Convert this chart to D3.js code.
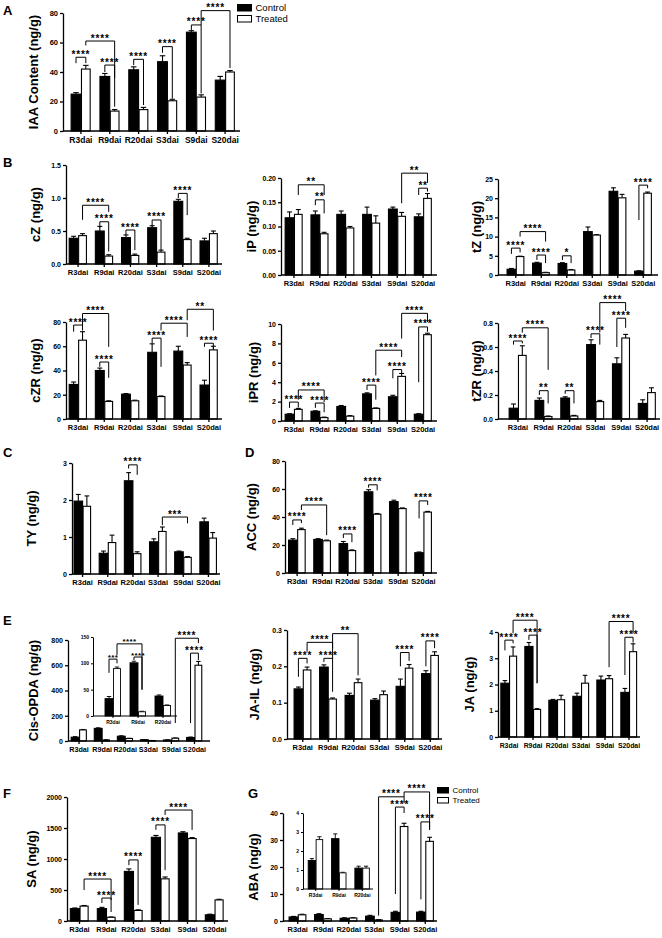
<!DOCTYPE html>
<html><head><meta charset="utf-8">
<script src="https://cdn.jsdelivr.net/npm/d3@7"></script>
<style>
body{margin:0;background:#fff}
text{font-family:"Liberation Sans",Arial,sans-serif}
</style>
</head><body>
<svg id="chart" width="662" height="938"></svg>
<script>
// ---------- DATA ----------
const categories = ["R3dai","R9dai","R20dai","S3dai","S9dai","S20dai"];
const insetCategories = ["R3dai","R9dai","R20dai"];
const seriesNames = ["Control","Treated"];

// A: IAA
const iaaControl = [25, 37, 41.5, 47, 67, 34.5];
const iaaTreated = [42, 13.5, 14.5, 20.5, 23, 40];
const iaaControlErr = [1, 2, 2, 4, 1, 2.5];
const iaaTreatedErr = [2.5, 1, 1.5, 1, 1.5, 1];
const iaaTicks = [0, 20, 40, 60, 80];
const iaaSig = [["****",0,0,0,1,50,46,46],["****",0,1,1,1,61,58,36],["****",1,0,1,1,44.7,40,16.5],["****",2,0,2,1,48.6,44.7,17.6],["****",3,0,3,1,57.2,53,22],["****",4,0,4,1,71.9,68.5,25.5],["****",4,1,5,1,81.6,71.9,42.7]];

// B: cZ
const czControl = [0.39, 0.50, 0.40, 0.55, 0.95, 0.35];
const czTreated = [0.43, 0.12, 0.13, 0.18, 0.37, 0.46];
const czControlErr = [0.03, 0.07, 0.04, 0.03, 0.03, 0.04];
const czTreatedErr = [0.03, 0.02, 0.02, 0.03, 0.02, 0.04];
const czTicks = [0, 0.5, 1.0, 1.5];
const czSig = [["****",0,1,1,1,0.89,0.67,0.79],["****",1,0,1,1,0.64,0.55,0.19],["****",2,0,2,1,0.515,0.44,0.21],["****",3,0,3,1,0.667,0.57,0.21],["****",4,0,4,1,1.07,1.0,0.74]];

// B: iP
const ipControl = [0.118, 0.124, 0.125, 0.125, 0.136, 0.120];
const ipTreated = [0.125, 0.085, 0.097, 0.107, 0.121, 0.158];
const ipControlErr = [0.012, 0.008, 0.007, 0.015, 0.004, 0.006];
const ipTreatedErr = [0.010, 0.003, 0.003, 0.015, 0.008, 0.010];
const ipTicks = [0, 0.05, 0.10, 0.15, 0.20];
const ipSig = [["**",0,1,1,1,0.186,0.165,0.165],["**",1,0,1,1,0.155,0.144,0.127],["**",4,1,5,1,0.21,0.148,0.19],["**",5,0,5,1,0.179,0.165,0.172]];

// B: tZ
const tzControl = [1.5, 3.1, 3.0, 11.3, 21.8, 1.0];
const tzTreated = [4.8, 0.6, 1.3, 10.4, 20.1, 21.3];
const tzControlErr = [0.2, 0.2, 0.2, 1.2, 0.9, 0.1];
const tzTreatedErr = [0.1, 0.1, 0.1, 0.1, 0.9, 0.3];
const tzTicks = [0, 5, 10, 15, 20, 25];
const tzSig = [["****",0,0,0,1,7.0,5.5,5.9],["****",0,1,1,1,11.3,10,8.7],["****",1,0,1,1,5.2,3.9,3.1],["*",2,0,2,1,5.0,3.9,3.1],["****",5,0,5,1,23.4,14.3,22.6]];

// B: cZR
const czrControl = [28.5, 40, 20.5, 55, 56, 28];
const czrTreated = [65, 14.5, 15, 18.5, 44.5, 57];
const czrControlErr = [2, 2, 0.5, 7, 4, 4];
const czrTreatedErr = [7, 0.5, 0.5, 0.5, 2, 3];
const czrTicks = [0, 20, 40, 60, 80];
const czrSig = [["****",0,0,0,1,77.5,72,73],["****",0,1,1,1,87,77.5,59.5],["****",1,0,1,1,47,43,34],["****",3,0,3,1,66.7,62.5,43],["****",3,1,4,1,79,73,67.7],["**",4,1,5,1,90.5,81.5,73],["****",5,0,5,1,62.5,59.5,58.5]];

// B: iPR
const iprControl = [0.7, 1.0, 1.5, 2.8, 2.5, 0.7];
const iprTreated = [1.2, 0.35, 0.5, 1.3, 4.6, 8.9];
const iprControlErr = [0.05, 0.05, 0.1, 0.1, 0.15, 0.05];
const iprTreatedErr = [0.1, 0.05, 0.05, 0.05, 0.3, 0.15];
const iprTicks = [0, 2, 4, 6, 8, 10];
const iprSig = [["****",0,0,0,1,1.95,1.35,1.4],["****",0,1,1,1,3.2,2.2,1.95],["****",1,0,1,1,1.85,1.35,0.9],["****",3,0,3,1,3.7,3.2,2.2],["****",3,1,4,1,7.3,4.7,6.6],["****",4,0,4,1,5.3,4.4,4.9],["****",4,1,5,1,11.1,8.5,10.2],["****",5,0,5,1,9.7,4.0,9.2]];

// B: tZR
const tzrControl = [0.09, 0.155, 0.175, 0.62, 0.46, 0.13];
const tzrTreated = [0.53, 0.02, 0.025, 0.145, 0.675, 0.22];
const tzrControlErr = [0.035, 0.02, 0.01, 0.04, 0.05, 0.03];
const tzrTreatedErr = [0.08, 0.005, 0.005, 0.01, 0.03, 0.04];
const tzrTicks = [0, 0.2, 0.4, 0.6, 0.8];
const tzrSig = [["****",0,0,0,1,0.65,0.62,0.63],["****",0,1,1,1,0.76,0.72,0.41],["**",1,0,1,1,0.236,0.2,0.13],["**",2,0,2,1,0.236,0.21,0.13],["****",3,0,3,1,0.71,0.675,0.62],["****",3,1,4,1,0.97,0.72,0.9],["****",4,0,4,1,0.84,0.6,0.76]];

// C: TY
const tyControl = [1.97, 0.56, 2.52, 0.87, 0.60, 1.41];
const tyTreated = [1.83, 0.85, 0.55, 1.15, 0.45, 0.97];
const tyControlErr = [0.18, 0.06, 0.22, 0.08, 0.02, 0.1];
const tyTreatedErr = [0.28, 0.2, 0.05, 0.12, 0.02, 0.15];
const tyTicks = [0, 1, 2, 3];
const tySig = [["****",2,0,2,1,2.95,2.85,2.68],["***",3,1,4,1,1.54,1.32,1.37]];

// D: ACC
const accControl = [23.5, 24, 21, 58, 51, 14.5];
const accTreated = [31, 23, 16, 42, 46, 43.5];
const accControlErr = [1, 0.5, 1.5, 1.5, 1, 0.5];
const accTreatedErr = [1, 0.5, 0.5, 0.5, 0.5, 0.5];
const accTicks = [0, 20, 40, 60, 80];
const accSig = [["****",0,0,0,1,37.9,34.3,35.7],["****",0,1,1,1,48.6,45,27],["****",2,0,2,1,27.9,25,22],["****",3,0,3,1,63,61,59],["****",5,0,5,1,51.5,39,48.6]];

// E: Cis-OPDA (main + inset)
const opdaControl = [30, 100, 38, 10, 8, 28];
const opdaTreated = [88, 8, 20, 3, 22, 600];
const opdaControlErr = [4, 4, 3, 1, 1, 3];
const opdaTreatedErr = [3, 1, 1, 1, 2, 30];
const opdaTicks = [0, 200, 400, 600, 800];
const opdaSig = [["****",4,1,5,1,814,142,775],["****",5,0,5,1,696,142,640]];
const opdaInsetControl = [33, 101, 38];
const opdaInsetTreated = [90, 8, 20];
const opdaInsetControlErr = [4, 3, 2];
const opdaInsetTreatedErr = [3, 1, 1];
const opdaInsetTicks = [0, 50, 100, 150];
const opdaInsetSig = [["***",0,0,0,1,108,82,100],["****",0,1,1,1,137,116,50],["****",1,0,1,1,112,106,50]];

// E: JA-IL
const jailControl = [0.138, 0.198, 0.120, 0.107, 0.145, 0.180];
const jailTreated = [0.190, 0.110, 0.155, 0.122, 0.195, 0.230];
const jailControlErr = [0.005, 0.006, 0.006, 0.004, 0.02, 0.008];
const jailTreatedErr = [0.008, 0.003, 0.01, 0.01, 0.01, 0.01];
const jailTicks = [0, 0.1, 0.2, 0.3];
const jailSig = [["****",0,0,0,1,0.222,0.171,0.208],["****",0,1,1,1,0.266,0.24,0.22],["****",1,0,1,1,0.222,0.212,0.13],["**",1,1,2,1,0.29,0.25,0.175],["****",4,0,4,1,0.238,0.2,0.215],["****",5,0,5,1,0.27,0.2,0.25]];

// E: JA
const jaControl = [2.05, 3.45, 1.40, 1.55, 2.17, 1.70];
const jaTreated = [3.08, 1.05, 1.42, 2.05, 2.22, 3.25];
const jaControlErr = [0.1, 0.15, 0.03, 0.12, 0.15, 0.15];
const jaTreatedErr = [0.35, 0.03, 0.17, 0.3, 0.12, 0.3];
const jaTicks = [0, 1, 2, 3, 4];
const jaSig = [["****",0,0,0,1,3.69,3.3,3.57],["****",0,1,1,1,4.45,3.95,2.05],["****",1,0,1,1,3.88,3.7,2.05],["****",4,1,5,1,4.4,2.66,3.95],["****",5,0,5,1,3.8,2.36,3.6]];

// F: SA
const saControl = [200, 200, 800, 1350, 1420, 100];
const saTreated = [240, 60, 170, 680, 1330, 340];
const saControlErr = [10, 20, 40, 30, 20, 10];
const saTreatedErr = [10, 5, 10, 30, 15, 10];
const saTicks = [0, 500, 1000, 1500, 2000];
const saSig = [["****",0,1,1,1,677,500,340],["****",1,0,1,1,370,290,145],["****",2,0,2,1,985,900,260],["****",3,0,3,1,1550,1470,820],["****",3,1,4,1,1790,1710,1470]];

// G: ABA (main + inset)
const abaControl = [1.5, 2.4, 1.0, 1.8, 3.2, 3.3];
const abaTreated = [2.3, 0.8, 1.1, 0.4, 35, 29.5];
const abaControlErr = [0.2, 0.3, 0.2, 0.3, 0.4, 0.3];
const abaTreatedErr = [0.2, 0.1, 0.1, 0.1, 1.2, 1.5];
const abaTicks = [0, 10, 20, 30, 40];
const abaSig = [["****",3,1,4,1,46,2,43.7],["****",4,1,5,1,47.8,46,33.7],["****",4,0,4,1,42.2,10,40],["****",5,0,5,1,36.7,8,34]];
const abaInsetControl = [1.5, 2.65, 1.1];
const abaInsetTreated = [2.6, 0.85, 1.1];
const abaInsetControlErr = [0.1, 0.25, 0.1];
const abaInsetTreatedErr = [0.15, 0.03, 0.1];
const abaInsetTicks = [0, 1, 2, 3, 4];

// ---------- DRAWING ----------
const svg = d3.select("#chart");
svg.append("rect").attr("width",662).attr("height",938).attr("fill","#fff");

function drawPanel(o) {
  const g = svg.append("g");
  const fs = o.fs || 7.5;
  const y = d3.scaleLinear().domain([0, o.max]).range([o.y0, o.yTop]);
  const x = d3.scaleBand().domain(o.cats).range(o.band).paddingInner(0).paddingOuter(0);
  const bw = x.bandwidth() * (o.bwFrac || 0.34);
  const cx = (i, s) => x(o.cats[i]) + x.bandwidth()/2 + (s === 0 ? -bw/2 : bw/2);
  const series = [o.ctrl, o.trt];
  const errs = [o.ctrlErr, o.trtErr];
  const sw = o.sw || 1.1;
  series.forEach((vals, s) => {
    const rows = vals.map((v, i) => ({v, i, e: errs[s][i]}));
    g.selectAll(null).data(rows).enter().append("line")
      .attr("x1", d => cx(d.i, s)).attr("x2", d => cx(d.i, s))
      .attr("y1", d => y(d.v)).attr("y2", d => y(d.v + d.e))
      .attr("stroke", "#000").attr("stroke-width", sw);
    g.selectAll(null).data(rows).enter().append("line")
      .attr("x1", d => cx(d.i, s) - bw*0.28).attr("x2", d => cx(d.i, s) + bw*0.28)
      .attr("y1", d => y(d.v + d.e)).attr("y2", d => y(d.v + d.e))
      .attr("stroke", "#000").attr("stroke-width", sw);
    g.selectAll(null).data(rows).enter().append("rect")
      .attr("x", d => cx(d.i, s) - bw/2 + (s ? sw/2 : 0))
      .attr("width", bw - (s ? sw : 0))
      .attr("y", d => y(d.v))
      .attr("height", d => Math.max(0, y(0) - y(d.v)))
      .attr("fill", s === 0 ? "#000" : "#fff")
      .attr("stroke", "#000").attr("stroke-width", sw);
  });
  const ya = d3.axisLeft(y).tickValues(o.ticks).tickFormat(d3.format(o.fmt || "d"))
    .tickSize(o.tick || 3).tickSizeOuter(0).tickPadding(2);
  const yg = g.append("g").attr("transform", `translate(${o.axis[0]},0)`).call(ya);
  const xa = d3.axisBottom(x).tickSize(o.tick || 3).tickSizeOuter(0).tickPadding(o.xpad || 3);
  const xg = g.append("g").attr("transform", `translate(0,${o.y0})`).call(xa);
  xg.select(".domain").attr("d", `M${o.axis[0]},0H${o.axis[1]}`);
  [yg, xg].forEach(a => {
    a.selectAll("path,line").attr("stroke", "#000").attr("stroke-width", o.aw || 1.3);
    a.selectAll("text").attr("font-weight", "bold").attr("fill", "#000")
      .attr("font-family", '"Liberation Sans", Arial, sans-serif');
  });
  yg.selectAll("text").attr("font-size", o.yfs || Math.min(fs, 7));
  xg.selectAll("text").attr("font-size", fs);
  if (o.title) {
    g.append("text").attr("transform", `translate(${o.titleX},${(o.y0 + o.yTop)/2}) rotate(-90)`)
      .attr("text-anchor", "middle").attr("font-size", o.titleFs || 13).attr("font-weight", "bold")
      .text(o.title);
  }
  (o.sig || []).forEach(b => {
    const [lab, i1, s1, i2, s2, top, l1, l2] = b;
    const xa1 = cx(i1, s1), xa2 = cx(i2, s2), yt = y(top);
    g.append("path").attr("d", `M${xa1},${y(l1)}V${yt}H${xa2}V${y(l2)}`)
      .attr("fill", "none").attr("stroke", "#000").attr("stroke-width", o.bsw || 1);
    g.append("text").attr("x", (xa1 + xa2)/2).attr("y", yt + (o.starDy || 0.5))
      .attr("text-anchor", "middle").attr("font-size", o.starFs || 10).attr("font-weight", "bold")
      .attr("letter-spacing", o.starLs == null ? 0.8 : o.starLs).text(lab);
  });
}

drawPanel({cats: categories, ctrl: iaaControl, trt: iaaTreated, ctrlErr: iaaControlErr, trtErr: iaaTreatedErr,
  ticks: iaaTicks, max: 80, y0: 131, yTop: 13, axis: [63, 240], band: [66.5, 239.5], fs: 8.5, yfs: 7.5, title: "IAA Content (ng/g)", titleX: 38, sig: iaaSig});
drawPanel({cats: categories, ctrl: czControl, trt: czTreated, ctrlErr: czControlErr, trtErr: czTreatedErr,
  ticks: czTicks, fmt: ".1f", max: 1.5, y0: 264, yTop: 165, axis: [66, 222], band: [65, 222], title: "cZ (ng/g)", titleX: 40, sig: czSig});
drawPanel({cats: categories, ctrl: ipControl, trt: ipTreated, ctrlErr: ipControlErr, trtErr: ipTreatedErr,
  ticks: ipTicks, fmt: ".2f", max: 0.2, y0: 275, yTop: 178, axis: [281, 437], band: [281, 436], title: "iP (ng/g)", titleX: 256, sig: ipSig});
drawPanel({cats: categories, ctrl: tzControl, trt: tzTreated, ctrlErr: tzControlErr, trtErr: tzTreatedErr,
  ticks: tzTicks, max: 25, y0: 275, yTop: 179, axis: [498, 658], band: [503, 656], title: "tZ (ng/g)", titleX: 481, sig: tzSig});
drawPanel({cats: categories, ctrl: czrControl, trt: czrTreated, ctrlErr: czrControlErr, trtErr: czrTreatedErr,
  ticks: czrTicks, max: 80, y0: 419, yTop: 322, axis: [66, 222], band: [65, 222], title: "cZR (ng/g)", titleX: 40, sig: czrSig});
drawPanel({cats: categories, ctrl: iprControl, trt: iprTreated, ctrlErr: iprControlErr, trtErr: iprTreatedErr,
  ticks: iprTicks, max: 10, y0: 421, yTop: 324, axis: [281, 437], band: [281, 436], title: "iPR (ng/g)", titleX: 258, sig: iprSig});
drawPanel({cats: categories, ctrl: tzrControl, trt: tzrTreated, ctrlErr: tzrControlErr, trtErr: tzrTreatedErr,
  ticks: tzrTicks, fmt: ".1f", max: 0.8, y0: 419, yTop: 323, axis: [498, 660], band: [505, 660], title: "tZR (ng/g)", titleX: 481, sig: tzrSig});
drawPanel({cats: categories, ctrl: tyControl, trt: tyTreated, ctrlErr: tyControlErr, trtErr: tyTreatedErr,
  ticks: tyTicks, max: 3, y0: 574, yTop: 463, axis: [72, 220], band: [70, 221], title: "TY (ng/g)", titleX: 36, sig: tySig});
drawPanel({cats: categories, ctrl: accControl, trt: accTreated, ctrlErr: accControlErr, trtErr: accTreatedErr,
  ticks: accTicks, max: 80, y0: 573, yTop: 461, axis: [285, 437], band: [284.5, 436], title: "ACC (ng/g)", titleX: 256, sig: accSig});
drawPanel({cats: categories, ctrl: opdaControl, trt: opdaTreated, ctrlErr: opdaControlErr, trtErr: opdaTreatedErr,
  ticks: opdaTicks, max: 800, y0: 741, yTop: 640, axis: [68, 210], band: [67.5, 206], fs: 7.2, title: "Cis-OPDA (ng/g)", titleX: 38, sig: opdaSig});
drawPanel({cats: insetCategories, ctrl: opdaInsetControl, trt: opdaInsetTreated, ctrlErr: opdaInsetControlErr, trtErr: opdaInsetTreatedErr,
  ticks: opdaInsetTicks, max: 150, y0: 716, yTop: 637, axis: [93, 177], band: [100.5, 175.5], fs: 5, yfs: 5, tick: 2, xpad: 2, aw: 1, sw: 0.9,
  bwFrac: 0.32, starFs: 8, starLs: 0.4, sig: opdaInsetSig});
drawPanel({cats: categories, ctrl: jailControl, trt: jailTreated, ctrlErr: jailControlErr, trtErr: jailTreatedErr,
  ticks: jailTicks, fmt: ".1f", max: 0.3, y0: 739, yTop: 630, axis: [287, 442], band: [290, 443], title: "JA-IL (ng/g)", titleX: 259, sig: jailSig});
drawPanel({cats: categories, ctrl: jaControl, trt: jaTreated, ctrlErr: jaControlErr, trtErr: jaTreatedErr,
  ticks: jaTicks, max: 4, y0: 737, yTop: 632, axis: [498, 640], band: [497, 641], fs: 6.9, title: "JA (ng/g)", titleX: 474, sig: jaSig});
drawPanel({cats: categories, ctrl: saControl, trt: saTreated, ctrlErr: saControlErr, trtErr: saTreatedErr,
  ticks: saTicks, max: 2000, y0: 921, yTop: 797, axis: [67, 228], band: [66, 228], title: "SA (ng/g)", titleX: 36, sig: saSig});
drawPanel({cats: categories, ctrl: abaControl, trt: abaTreated, ctrlErr: abaControlErr, trtErr: abaTreatedErr,
  ticks: abaTicks, max: 40, y0: 921, yTop: 813, axis: [283, 437], band: [285, 438], title: "ABA (ng/g)", titleX: 258, sig: abaSig});
drawPanel({cats: insetCategories, ctrl: abaInsetControl, trt: abaInsetTreated, ctrlErr: abaInsetControlErr, trtErr: abaInsetTreatedErr,
  ticks: abaInsetTicks, max: 4, y0: 889, yTop: 813, axis: [303, 373], band: [304, 374], fs: 5, yfs: 5, tick: 2, xpad: 2, aw: 1, sw: 0.9, bwFrac: 0.32});

const letters = [["A",3,15],["B",3,167],["C",3,457],["D",245,457],["E",3,625],["F",3,798],["G",248,798]];
svg.selectAll(null).data(letters).enter().append("text")
  .attr("x", d => d[1]).attr("y", d => d[2]).attr("font-size", 13).attr("font-weight", "bold").text(d => d[0]);

function legend(x0, y0, rw, rh, gap, fs) {
  seriesNames.forEach((name, i) => {
    svg.append("rect").attr("x", x0).attr("y", y0 + i*gap).attr("width", rw).attr("height", rh)
      .attr("fill", i ? "#fff" : "#000").attr("stroke", "#000").attr("stroke-width", 1);
    svg.append("text").attr("x", x0 + rw + 4).attr("y", y0 + i*gap + rh/2).attr("dy", "0.35em")
      .attr("font-size", fs).text(name);
  });
}
legend(237.5, 4.5, 14, 6.5, 11, 9.5);
legend(437.5, 787.5, 11, 5.5, 10, 8);
</script>
</body></html>
